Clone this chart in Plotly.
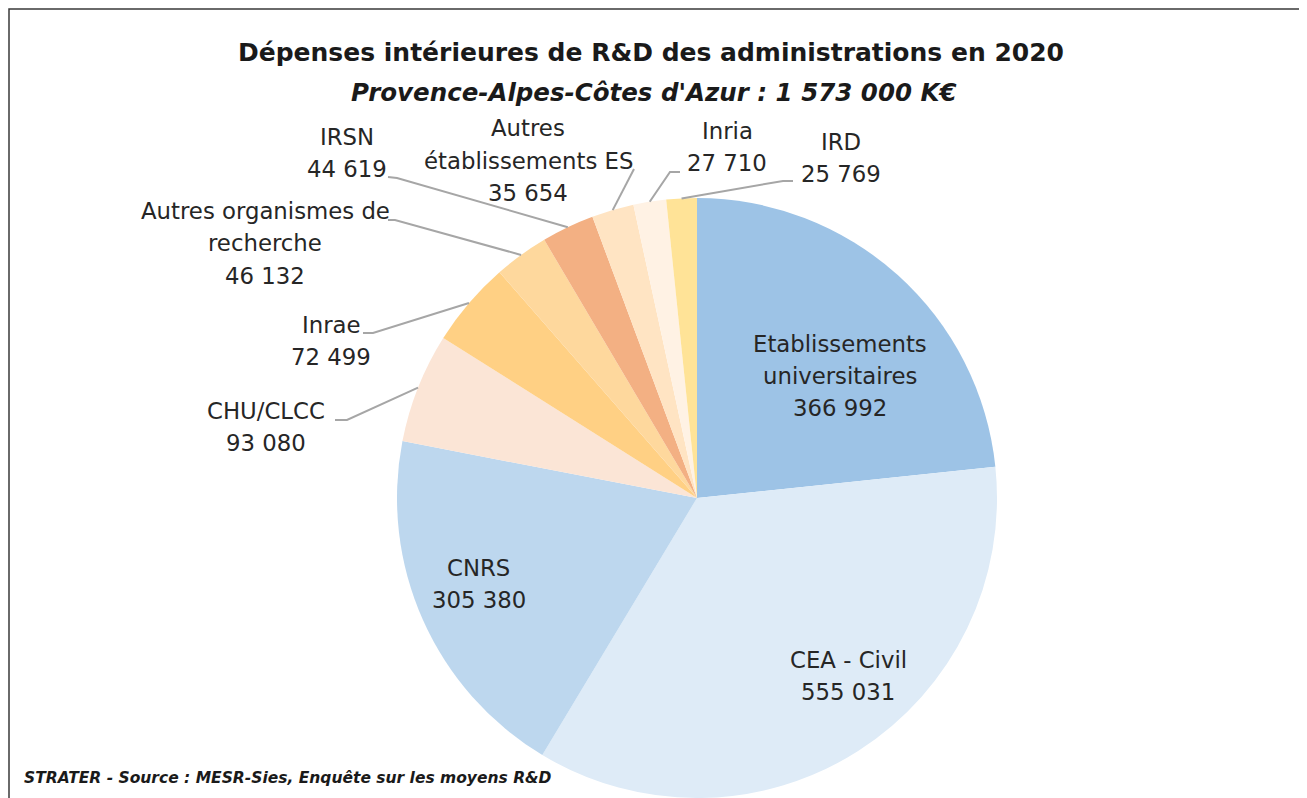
import math
import plotly.graph_objects as go

W, H = 1307, 798

categories = ["Etablissements universitaires", "CEA - Civil", "CNRS", "CHU/CLCC", "Inrae",
              "Autres organismes de recherche", "IRSN", "Autres établissements ES", "Inria", "IRD"]
values = [366992, 555031, 305380, 93080, 72499, 46132, 44619, 35654, 27710, 25769]
value_labels = ["366 992", "555 031", "305 380", "93 080", "72 499",
                "46 132", "44 619", "35 654", "27 710", "25 769"]
label_lines = [["Etablissements", "universitaires"], ["CEA - Civil"], ["CNRS"], ["CHU/CLCC"], ["Inrae"],
               ["Autres organismes de", "recherche"], ["IRSN"], ["Autres", "établissements ES"],
               ["Inria"], ["IRD"]]
colors = ["#9DC3E6", "#DEEBF7", "#BDD7EE", "#FBE5D6", "#FFD084",
          "#FED89D", "#F3B083", "#FFE4C3", "#FFF2E4", "#FFE397"]

# layout (page pixel) positions of label blocks (centre) and leader-line elbows
label_pos = [(840, 376), (848, 676), (479, 584), (266, 427), (331, 341),
             (265, 243), (347, 153), (528, 161), (727, 147), (841, 158)]
leader_elbow = [None, None, None, [(335, 420), (347, 420)], [(363, 333), (373, 333)],
                [(388, 220), (395, 220)], [(388, 177), (397, 178)], [(634, 169)],
                [(680, 172), (670, 172)], [(793, 181), (783, 181)]]

CX, CY, R = 697, 498, 300
OFF = 8  # page offset of the figure (default body margin)
FONT = "DejaVu Sans"
LINE_H = 32.5


def px(x):
    return (x - OFF) / W


def py(y):
    return 1 - (y - OFF) / H


fig = go.Figure(go.Pie(
    labels=categories, values=values, sort=False, direction="clockwise", rotation=0,
    marker=dict(colors=colors, line=dict(width=0)),
    textinfo="none", hoverinfo="skip",
    domain=dict(x=[px(CX - R), px(CX + R)], y=[py(CY + R), py(CY - R)]),
    showlegend=False,
))

annotations = []
shapes = []

total = sum(values)
cum = 0.0
for i, v in enumerate(values):
    mid = (cum + v / 2) / total * 2 * math.pi
    cum += v
    lines = label_lines[i] + [value_labels[i]]
    lx, ly = label_pos[i]
    n = len(lines)
    for k, t in enumerate(lines):
        annotations.append(dict(
            x=px(lx), y=py(ly + (k - (n - 1) / 2) * LINE_H), xref="paper", yref="paper",
            text=t, showarrow=False, xanchor="center", yanchor="middle",
            font=dict(family=FONT, size=22.8, color="#262626"),
        ))
    if leader_elbow[i]:
        ex = CX + R * math.sin(mid)
        ey = CY - R * math.cos(mid)
        pts = leader_elbow[i] + [(ex, ey)]
        path = "M " + " L ".join(f"{px(a):.5f},{py(b):.5f}" for a, b in pts)
        shapes.append(dict(type="path", path=path, xref="paper", yref="paper",
                           line=dict(color="#A6A6A6", width=2)))

annotations += [
    dict(x=px(651), y=py(52), xref="paper", yref="paper", showarrow=False,
         text="<b>Dépenses intérieures de R&D des administrations en 2020</b>",
         font=dict(family=FONT, size=25, color="#1a1a1a"), xanchor="center", yanchor="middle"),
    dict(x=px(654), y=py(93), xref="paper", yref="paper", showarrow=False,
         text="<b><i>Provence-Alpes-Côtes d'Azur : 1 573 000 K€</i></b>",
         font=dict(family=FONT, size=24.5, color="#1a1a1a"), xanchor="center", yanchor="middle"),
    dict(x=px(22), y=py(778), xref="paper", yref="paper", showarrow=False,
         text="<b><i>STRATER - Source : MESR-Sies, Enquête sur les moyens R&D</i></b>",
         font=dict(family=FONT, size=15.5, color="#1a1a1a"), xanchor="left", yanchor="middle"),
]

shapes.append(dict(type="rect", xref="paper", yref="paper",
                   x0=px(9), x1=px(1305), y0=py(815), y1=py(9),
                   line=dict(color="#3a3a3a", width=1.5), fillcolor="rgba(0,0,0,0)", layer="above"))

fig.update_layout(
    width=W, height=H, margin=dict(l=0, r=0, t=0, b=0),
    paper_bgcolor="white", plot_bgcolor="white",
    annotations=annotations, shapes=shapes,
)

fig.write_html("out.html")
